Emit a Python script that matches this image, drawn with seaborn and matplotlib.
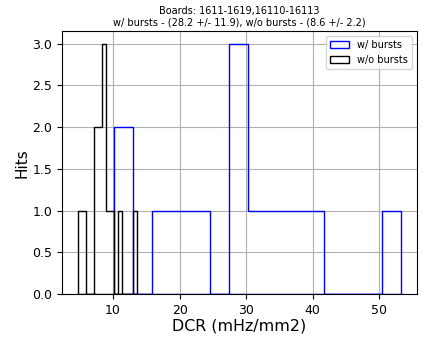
import numpy as np
import pandas as pd
import seaborn as sns
import matplotlib
matplotlib.use('Agg')
import matplotlib.pyplot as plt

# DCR per board (mHz/mm2)
dcr_bursts = [10.15, 12.2, 17.0, 20.0, 23.0, 28.0, 28.5, 29.5, 31.5, 34.5, 37.5, 40.5, 53.2]
dcr_no_bursts = [4.74, 5.6, 7.4, 7.5, 7.9, 8.1, 8.5, 8.6, 8.8, 9.2, 9.8, 10.9, 13.65]
n_bins = 15
title = ('Boards: 1611-1619,16110-16113\n'
         'w/ bursts - (28.2 +/- 11.9), w/o bursts - (8.6 +/- 2.2)')

sns.set_style('ticks', rc={'axes.grid': True, 'grid.color': '#b0b0b0',
                           'axes.edgecolor': 'black', 'text.color': 'black',
                           'xtick.color': 'black', 'ytick.color': 'black',
                           'axes.labelcolor': 'black'})
plt.rcParams['font.family'] = ['DejaVu Sans']

fig = plt.figure(figsize=(4.24, 3.41), dpi=100)
ax = fig.add_axes([0.146, 0.137, 0.837, 0.772])

sns.histplot(x=dcr_bursts, bins=n_bins, element='step', fill=True,
             color='blue', facecolor='none', edgecolor='blue', linewidth=1,
             label='w/ bursts', ax=ax)
sns.histplot(x=dcr_no_bursts, bins=n_bins, element='step', fill=True,
             color='black', facecolor='none', edgecolor='black', linewidth=1,
             label='w/o bursts', ax=ax)

ax.set_title(title, fontsize=7, pad=4)
ax.set_xlabel('DCR (mHz/mm2)', fontsize=11.4, labelpad=1)
ax.set_ylabel('Hits', fontsize=11, labelpad=2)
ax.tick_params(labelsize=9, length=3.5, width=0.8)
ax.set_yticks(np.arange(0, 3.01, 0.5))
ax.set_xticks([10, 20, 30, 40, 50])
ax.legend(loc='upper right', fontsize=7)
ax.set_axisbelow(True)

fig.savefig('out.png', dpi=100)
